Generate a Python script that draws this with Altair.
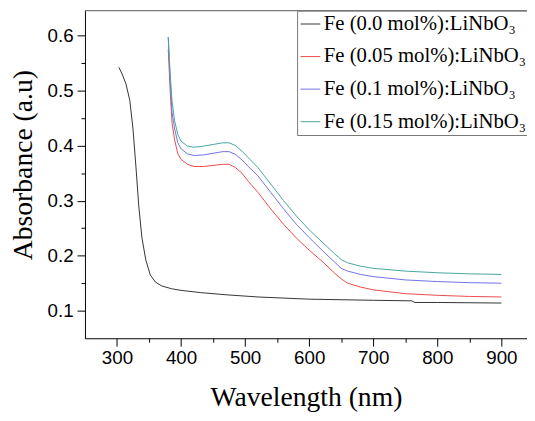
import altair as alt
import pandas as pd

series_names = ["Fe (0.0 mol%):LiNbO₃", "Fe (0.05 mol%):LiNbO₃",
                "Fe (0.1 mol%):LiNbO₃", "Fe (0.15 mol%):LiNbO₃"]
series_colors = ["#333333", "#ec4a4a", "#7070e4", "#46a69e"]

wl_undoped = [303, 308, 314, 320, 325, 330, 334, 339, 345, 352, 360, 370, 385,
              400, 430, 470, 520, 600, 700, 760, 765, 800, 900]
abs_undoped = [0.542, 0.530, 0.512, 0.482, 0.430, 0.355, 0.290, 0.232, 0.192,
               0.165, 0.152, 0.145, 0.140, 0.137, 0.133, 0.129, 0.125, 0.121,
               0.119, 0.118, 0.115, 0.115, 0.114]

wl_doped = [380, 383, 386, 390, 395, 400, 410, 420, 435, 450, 465, 475, 485, 495,
            505, 520, 540, 560, 580, 600, 620, 640, 650, 660, 680, 700, 750, 800,
            850, 900]
abs_005 = [0.575, 0.500, 0.440, 0.410, 0.385, 0.375, 0.366, 0.362, 0.362, 0.364,
           0.366, 0.366, 0.360, 0.350, 0.335, 0.315, 0.285, 0.257, 0.232, 0.210,
           0.190, 0.168, 0.158, 0.150, 0.143, 0.138, 0.131, 0.128, 0.126, 0.125]
abs_01 = [0.597, 0.520, 0.460, 0.430, 0.405, 0.394, 0.385, 0.382, 0.383, 0.386,
          0.389, 0.389, 0.384, 0.374, 0.362, 0.345, 0.315, 0.285, 0.257, 0.233,
          0.210, 0.188, 0.177, 0.172, 0.166, 0.162, 0.156, 0.153, 0.151, 0.150]
abs_015 = [0.597, 0.530, 0.480, 0.445, 0.420, 0.408, 0.399, 0.397, 0.399, 0.402,
           0.405, 0.405, 0.400, 0.390, 0.378, 0.360, 0.330, 0.300, 0.272, 0.247,
           0.225, 0.203, 0.193, 0.187, 0.181, 0.177, 0.172, 0.169, 0.167, 0.166]

x_major = [300, 400, 500, 600, 700, 800, 900]
x_minor = [350, 450, 550, 650, 750, 850]
y_major = [0.1, 0.2, 0.3, 0.4, 0.5, 0.6]
y_minor = [0.15, 0.25, 0.35, 0.45, 0.55]

rows = []
for w, a in zip(wl_undoped, abs_undoped):
    rows.append({"wl": w, "absorb": a, "series": series_names[0]})
for name, vals in zip(series_names[1:], [abs_005, abs_01, abs_015]):
    for w, a in zip(wl_doped, vals):
        rows.append({"wl": w, "absorb": a, "series": name})
df = pd.DataFrame(rows)

serif = "Liberation Serif"
sans = "Liberation Sans"

x_scale = alt.Scale(domain=[250, 940], nice=False, zero=False)
y_scale = alt.Scale(domain=[0.05, 0.645], nice=False, zero=False)

lines = alt.Chart(df).mark_line(strokeWidth=1, clip=True).encode(
    x=alt.X("wl:Q", scale=x_scale,
            axis=alt.Axis(values=x_major, tickSize=8, labelPadding=3, orient="bottom",
                          title="Wavelength (nm)", titlePadding=16, format="d",
                          titleFont=serif, titleFontSize=28, titleFontWeight="normal",
                          labelFont=sans, labelFontSize=19)),
    y=alt.Y("absorb:Q", scale=y_scale,
            axis=alt.Axis(values=y_major, tickSize=8, labelPadding=4, orient="left",
                          title="Absorbance (a.u)", titlePadding=10, format=".1f",
                          titleY=156,
                          titleFont=serif, titleFontSize=28, titleFontWeight="normal",
                          labelFont=sans, labelFontSize=19)),
    color=alt.Color("series:N",
                    scale=alt.Scale(domain=series_names, range=series_colors),
                    legend=alt.Legend(title=None, orient="none", legendX=215, legendY=0,
                                      symbolType="stroke", symbolSize=400,
                                      symbolStrokeWidth=1, labelFont=serif,
                                      labelFontSize=21, labelColor="black",
                                      rowPadding=11, padding=3, strokeColor="#777777",
                                      fillColor="white", labelOffset=3, labelLimit=400)),
)

minor = alt.Chart(df).mark_point(opacity=0).encode(
    x=alt.X("wl:Q", scale=x_scale,
            axis=alt.Axis(values=x_minor, tickSize=4, labels=False, domain=False,
                          title=None, orient="bottom")),
    y=alt.Y("absorb:Q", scale=y_scale,
            axis=alt.Axis(values=y_minor, tickSize=4, labels=False, domain=False,
                          title=None, orient="left")),
)

top_line = alt.Chart(pd.DataFrame({"k": [0]})).mark_rule(color="#555555", strokeWidth=1).encode(
    x=alt.value(0), x2=alt.value(448), y=alt.value(0)
)

chart = alt.layer(minor, lines, top_line).resolve_axis(
    x="independent", y="independent"
).properties(
    width=448, height=332,
    autosize=alt.AutoSizeParams(type="none"),
    padding={"left": 78, "top": 0, "right": 0, "bottom": 72},
).configure_view(stroke=None).configure_axis(
    grid=False, domainColor="black", tickColor="black", labelColor="black",
    labelFont=sans, labelFontSize=19,
    titleFont=serif, titleFontSize=28, titleFontWeight="normal",
    titleColor="black",
)

chart.save("out.html", embed_options={"renderer": "svg", "actions": False})
